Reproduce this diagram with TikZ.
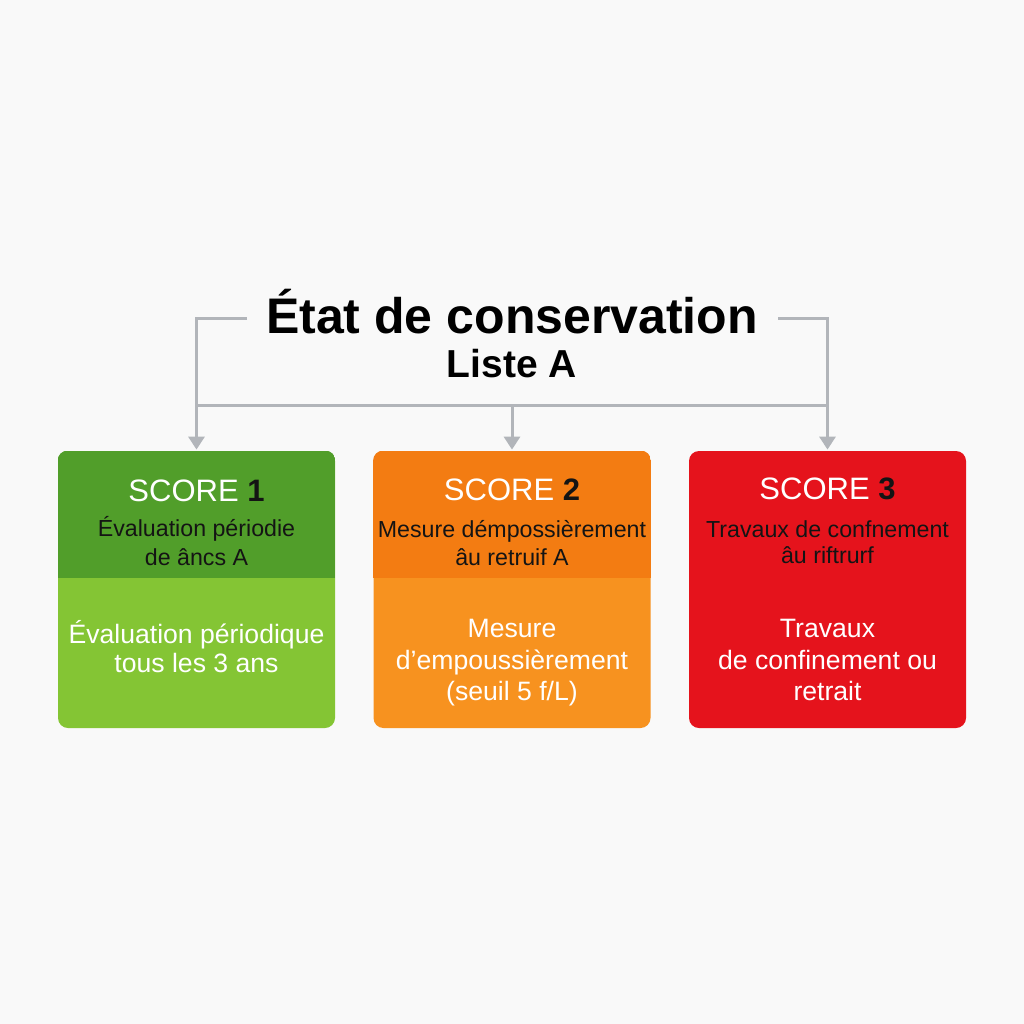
\documentclass[tikz,border=0pt]{standalone}
\usepackage{fontspec}
\setmainfont{Liberation Sans}
\usetikzlibrary{arrows.meta}
\definecolor{bg}{HTML}{F9F9F9}
\definecolor{conn}{HTML}{B2B5BA}
\definecolor{gtop}{HTML}{519E2A}
\definecolor{gbot}{HTML}{84C534}
\definecolor{otop}{HTML}{F37C12}
\definecolor{obot}{HTML}{F7921F}
\definecolor{rbox}{HTML}{E5131C}
\definecolor{ink}{HTML}{141414}
\tikzset{
  box/.style={rounded corners=5pt, minimum width=138.5pt, minimum height=138.5pt, inner sep=0pt},
  line/.style={draw=conn, line width=1.5pt},
  arr/.style={line, -{Triangle[width=8pt,length=6.5pt]}, shorten >=0.5pt},
  txt/.style={inner sep=0pt, anchor=base},
  scoret/.style={txt, font=\fontsize{15.5}{18}\selectfont, text=white},
  subt/.style={txt, font=\fontsize{11.6}{14}\selectfont, text=ink},
  bott/.style={txt, font=\fontsize{13.3}{16}\selectfont, text=white}
}
\begin{document}
\begin{tikzpicture}[x=0.5pt,y=-0.5pt]
\fill[bg] (0,0) rectangle (1024,1024);
\useasboundingbox (0,0) rectangle (1024,1024);

% title
\node[txt, font=\fontsize{25}{30}\selectfont\bfseries] (title) at (512,333) {État de conservation};
\node[txt, font=\fontsize{19.5}{24}\selectfont\bfseries] (liste) at (512,377) {Liste A};

% boxes
\node[box, fill=gbot] (b1) at (196.5,589.5) {};
\node[box, fill=obot] (b2) at (512,589.5) {};
\node[box, fill=rbox] (b3) at (827.5,589.5) {};
\begin{scope}
  \clip[rounded corners=5pt] (b1.north west) rectangle (b1.south east);
  \fill[gtop] (b1.north west) rectangle (b1.east |- 0,578);
\end{scope}
\begin{scope}
  \clip[rounded corners=5pt] (b2.north west) rectangle (b2.south east);
  \fill[otop] (b2.north west) rectangle (b2.east |- 0,578);
\end{scope}

% connectors
\coordinate (tl) at (247,318);
\coordinate (tr) at (778,318);
\coordinate (bar) at (512,405);
\draw[arr] (tl) -| (b1.north);
\draw[arr] (tr) -| (b3.north);
\draw[line] (b1.north |- bar) -- (b3.north |- bar);
\draw[arr] (bar) -- (b2.north);

% box 1
\node[scoret] (s1) at (196.5,501) {SCORE \textcolor{ink}{\bfseries 1}};
\node[subt] (d1a) at (196.5,536) {Évaluation périodie};
\node[subt] (d1b) at (196.5,565) {de âncs A};
\node[bott] (w1a) at (196.5,643) {Évaluation périodique};
\node[bott] (w1b) at (196.5,672) {tous les 3 ans};

% box 2
\node[scoret] (s2) at (512,500) {SCORE \textcolor{ink}{\bfseries 2}};
\node[subt] (d2a) at (512,537) {Mesure démpossièrement};
\node[subt] (d2b) at (512,565) {âu retruif A};
\node[bott] (w2a) at (512,637) {Mesure};
\node[bott] (w2b) at (512,669) {d’empoussièrement};
\node[bott] (w2c) at (512,700) {(seuil 5 f/L)};

% box 3
\node[scoret] (s3) at (827.5,499) {SCORE \textcolor{ink}{\bfseries 3}};
\node[subt] (d3a) at (827.5,537) {Travaux de confnement};
\node[subt] (d3b) at (827.5,563) {âu riftrurf};
\node[bott] (w3a) at (827.5,637) {Travaux};
\node[bott] (w3b) at (827.5,669) {de confinement ou};
\node[bott] (w3c) at (827.5,700) {retrait};
\end{tikzpicture}
\end{document}
